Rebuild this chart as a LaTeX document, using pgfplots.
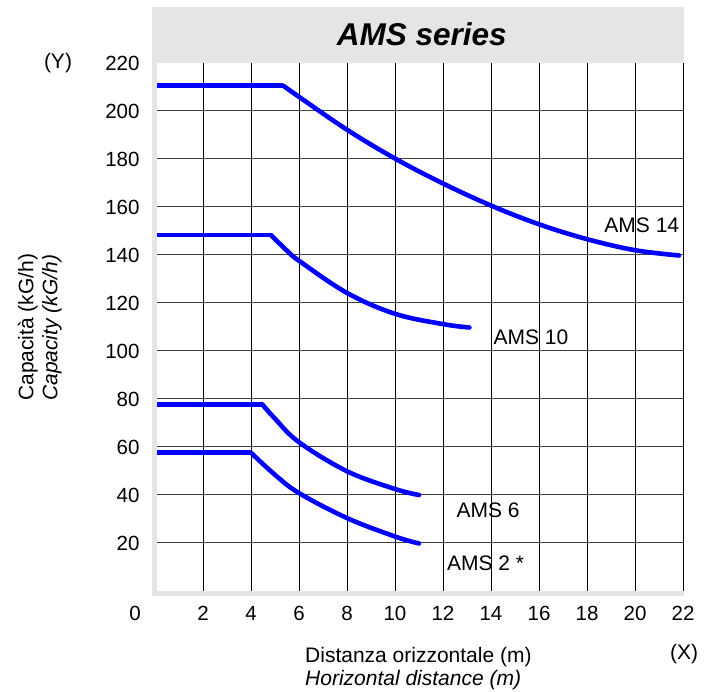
\documentclass[border=0pt]{standalone}
\usepackage{fontspec}
\setmainfont{Liberation Sans}
\usepackage{pgfplots}
\pgfplotsset{compat=1.18}
\definecolor{band}{RGB}{229,229,229}
\definecolor{crv}{RGB}{0,0,255}
\newcommand{\fs}{\fontsize{21}{25}\selectfont}
\newcommand{\ft}{\fontsize{20.5}{24}\selectfont}
\begin{document}
\begin{tikzpicture}
\begin{axis}[
  at={(0,0)}, anchor=south west,
  scale only axis, width=528pt, height=528pt,
  xmin=0, xmax=22, ymin=0, ymax=220,
  axis line style={draw=none},
  tick style={draw=none},
  xtick={2,4,...,22}, ytick={20,40,...,220},
  grid=major,
  x grid style={black, line width=0.9pt},
  y grid style={black!75, line width=1pt},
  /pgf/number format/assume math mode=true,
  xticklabel style={font=\ft, anchor=center, yshift=-22pt},
  yticklabel style={font=\ft, anchor=east, xshift=-15.3pt, inner sep=0pt},
  clip=false,
]
% gray frame
\fill[band] (axis cs:-0.125,220) rectangle (axis cs:22.04,243.3);
\fill[band] (axis cs:-0.125,-2.08) rectangle (axis cs:0.08,220);
\fill[band] (axis cs:-0.125,-2.08) rectangle (axis cs:22.04,0);

\pgfplotsset{every axis plot/.append style={crv, line width=4.6pt}}
% AMS 14
\addplot[line cap=butt] coordinates {(0.08,210.5) (5.35,210.5)};
\addplot[smooth, tension=0.6, line cap=round] coordinates {(5.35,210.5) (6,205.9) (8,192.2) (10,180.2) (12,169.8) (14,160.6) (16,152.8) (18,146.6) (20,142.0) (21.83,139.8)};
% AMS 10
\addplot[line cap=butt] coordinates {(0.08,148.3) (4.83,148.3)};
\addplot[smooth, tension=0.6, line cap=round] coordinates {(4.83,148.3) (5.5,141.8) (6,137.6) (8,124.2) (10,115.5) (12,111.2) (13.1,109.8)};
% AMS 6
\addplot[line cap=butt] coordinates {(0.08,77.8) (4.47,77.8)};
\addplot[smooth, tension=0.6, line cap=round] coordinates {(4.47,77.8) (5,71.8) (6,62) (8,49.9) (10,42.5) (11,40)};
% AMS 2
\addplot[line cap=butt] coordinates {(0.08,57.6) (4,57.6)};
\addplot[smooth, tension=0.6, line cap=round] coordinates {(4,57.6) (5,48.4) (6,40.8) (8,30.4) (10,22.7) (11,19.8)};

\node[font=\fs, inner sep=0pt, anchor=base west] at (axis cs:18.72,149.2) {AMS 14};
\node[font=\fs, inner sep=0pt, anchor=base west] at (axis cs:14.1,102.5) {AMS 10};
\node[font=\fs, inner sep=0pt, anchor=base west] at (axis cs:12.56,30.8) {AMS 6};
\node[font=\fs, inner sep=0pt, anchor=base west] at (axis cs:12.16,8.46) {AMS 2 *};
\end{axis}
\begin{scope}[x=1pt, y=1pt]
\path (-155,-101) rectangle (557,591);
\node[font=\fontsize{31.5}{36}\selectfont\bfseries\itshape, inner sep=0pt, anchor=base] at (421.7-155,591-46) {AMS series};
\node[font=\ft, anchor=center] at (135-155,-22) {0};
\node[font=\fs, anchor=center] at (58-155,528) {(Y)};
\node[font=\fs, anchor=center] at (684-155,591-654) {(X)};
\node[font=\fs, inner sep=0pt, anchor=base west] at (305-155,591-663) {Distanza orizzontale (m)};
\node[font=\fs\itshape, inner sep=0pt, anchor=base west] at (305-155,591-686) {Horizontal distance (m)};
\node[font=\fs, inner sep=0pt, anchor=base west, rotate=90] at (33.3-155,591-401) {Capacità (kG/h)};
\node[font=\fs\itshape, inner sep=0pt, anchor=base west, rotate=90] at (57.3-155,591-401) {Capacity (kG/h)};
\end{scope}
\end{tikzpicture}
\end{document}
